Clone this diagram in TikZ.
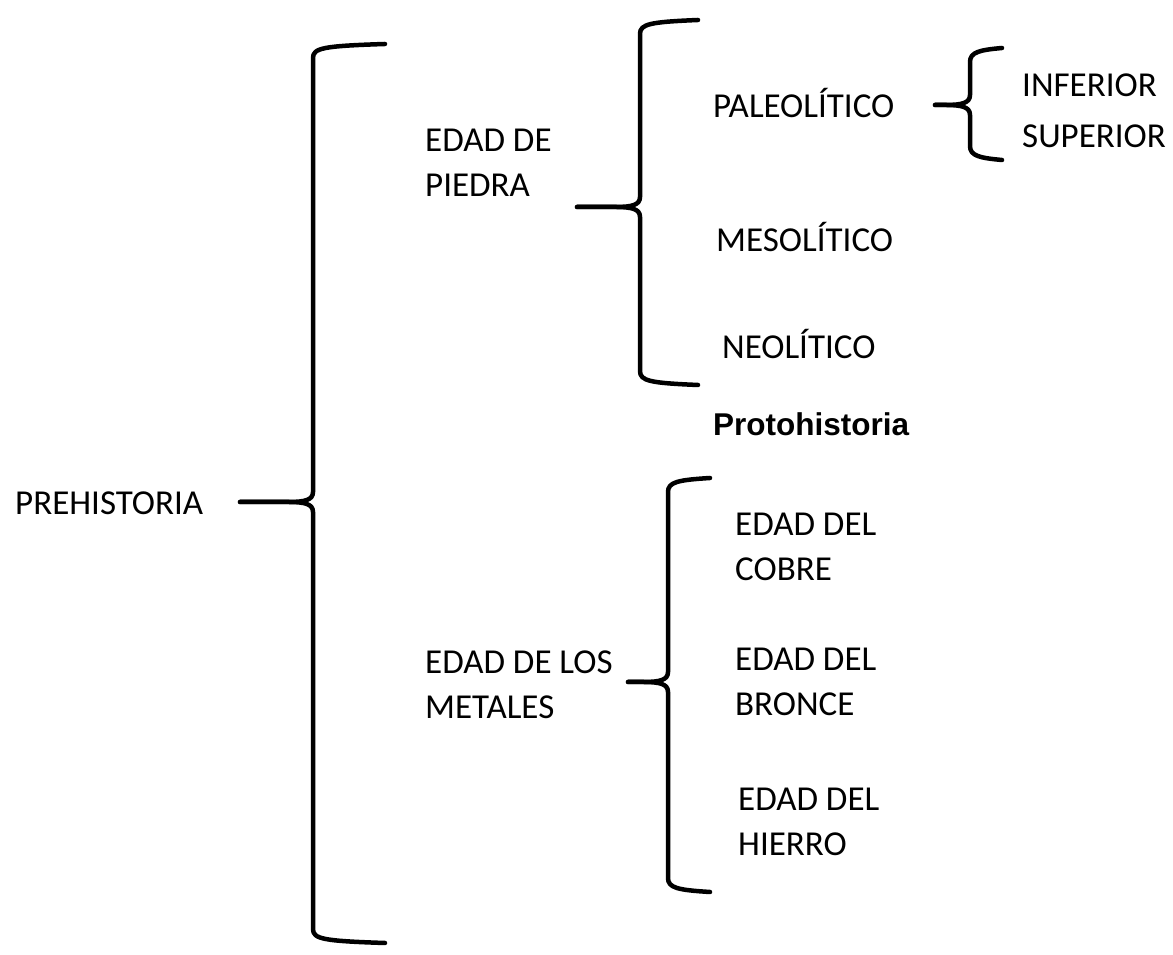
\documentclass[tikz,border=0pt]{standalone}
\usepackage{fontspec}
\setmainfont{Carlito}
\newfontfamily\arialfont{Liberation Sans}
\newcommand\drawbrace[6]{% #1 X, #2 top y, #3 mid y, #4 bottom y, #5 left tip x, #6 right end x
  \coordinate (bt) at (#6,#2);
  \coordinate (bm) at (#5,#3);
  \coordinate (bb) at (#6,#4);
  \draw[bracestyle] (bt) .. controls ({#1+10},{#2-2}) and (#1,{#2-4}) .. (#1,{#2-14})
     -- (#1,{#3+10}) .. controls (#1,{#3+2}) and ({#1-8},#3) .. ({#1-25},#3) -- (bm);
  \draw[bracestyle] (bm) -- ({#1-25},#3) .. controls ({#1-8},#3) and (#1,{#3-2}) .. (#1,{#3-10})
     -- (#1,{#4+14}) .. controls (#1,{#4+4}) and ({#1+10},{#4+2}) .. (bb);
}
\begin{document}
\begin{tikzpicture}[x=1pt,y=1pt,
  bracestyle/.style={line width=4.5pt,line cap=round,line join=round},
  lbl/.style={anchor=base west,inner sep=0pt,align=left,font=\fontsize{35}{45}\selectfont}]
\useasboundingbox (0,0) rectangle (1173,955);
% labels (y = 955 - pixel row); multi-line nodes anchored at last line baseline
\node[lbl] (pre) at (15,440) {PREHISTORIA};
\node[lbl] (piedra) at (425,758) {EDAD DE\\PIEDRA};
\node[lbl] (paleo) at (713,837) {PALEOLÍTICO};
\node[lbl] (meso) at (716,703) {MESOLÍTICO};
\node[lbl] (neo) at (722,596) {NEOLÍTICO};
\node[lbl] (inf) at (1022,858) {INFERIOR};
\node[lbl] (sup) at (1022,807) {SUPERIOR};
\node[anchor=base west,inner sep=0pt,font=\arialfont\bfseries\fontsize{31.5}{36}\selectfont] (proto) at (713,519) {Protohistoria};
\node[lbl] (cobre) at (735,374) {EDAD DEL\\COBRE};
\node[lbl] (metales) at (425,236) {EDAD DE LOS\\METALES};
\node[lbl] (bronce) at (735,239) {EDAD DEL\\BRONCE};
\node[lbl] (hierro) at (738,99) {EDAD DEL\\HIERRO};
% braces
\drawbrace{313}{911}{453}{12}{240}{385}
\drawbrace{640}{935}{748}{570}{577}{698}
\drawbrace{970}{907}{850}{795}{935}{1002}
\drawbrace{668}{477}{273}{63}{628}{710}
\end{tikzpicture}
\end{document}
